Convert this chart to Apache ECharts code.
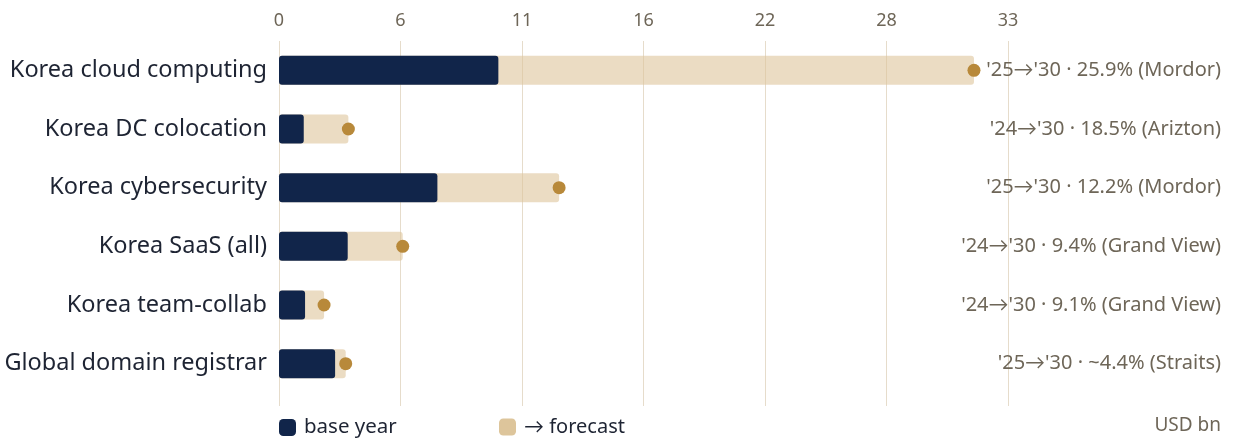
<!DOCTYPE html>
<html>
<head>
<meta charset="utf-8">
<style>
  html, body { margin: 0; padding: 0; background: #fff; }
  #chart { width: 1234px; height: 439px; }
</style>
<script src="https://cdn.jsdelivr.net/npm/echarts@6/dist/echarts.min.js"></script>
</head>
<body>
<div id="chart"></div>
<script>
// market sizes, USD bn
const categories = ['Korea cloud computing', 'Korea DC colocation', 'Korea cybersecurity',
    'Korea SaaS (all)', 'Korea team-collab', 'Global domain registrar'];
const baseYear = [9.93, 1.12, 7.17, 3.11, 1.18, 2.54];
const forecast = [31.46, 3.14, 12.68, 5.6, 2.04, 3.02];
const cagrNotes = ["'25→'30 · 25.9% (Mordor)", "'24→'30 · 18.5% (Arizton)", "'25→'30 · 12.2% (Mordor)",
    "'24→'30 · 9.4% (Grand View)", "'24→'30 · 9.1% (Grand View)", "'25→'30 · ~4.4% (Straits)"];
const tickLabels = ['0', '6', '11', '16', '22', '28', '33'];

const FONT = '"Noto Sans", Lato, sans-serif';
const NAVY = '#11254A';
const SAND = '#DDC59B';
const GOLD = '#B8893A';
const MUTED = '#6E6658';

const chart = echarts.init(document.getElementById('chart'));

chart.setOption({
    animation: false,
    textStyle: { fontFamily: FONT },
    grid: [
        { left: 279, right: 226, top: 41, height: 352 },
        { left: 279, right: 226, top: 41, height: 365 }
    ],
    xAxis: [{
        gridIndex: 0, type: 'value', min: 0, max: 33, interval: 5.5,
        axisLine: { show: false }, axisTick: { show: false },
        axisLabel: { show: false }, splitLine: { show: false }
    }, {
        gridIndex: 1, type: 'value', min: 0, max: 33, interval: 5.5, position: 'top',
        axisLine: { show: false }, axisTick: { show: false },
        axisLabel: {
            color: MUTED, fontSize: 18, margin: 11, fontFamily: FONT,
            formatter: (v) => tickLabels[Math.round(v / 5.5)]
        },
        splitLine: { show: true, lineStyle: { color: '#E6DCCB', width: 1 } }
    }],
    yAxis: [{
        gridIndex: 0, type: 'category', data: categories, inverse: true,
        axisLine: { show: false }, axisTick: { show: false },
        axisLabel: { color: '#1E2433', fontSize: 23.5, margin: 12, fontFamily: FONT, padding: [3, 0, 0, 0] }
    }, {
        gridIndex: 0, type: 'category', data: cagrNotes, inverse: true, position: 'right',
        axisLine: { show: false }, axisTick: { show: false },
        axisLabel: { color: MUTED, fontSize: 20, margin: 213, align: 'right', fontFamily: FONT, padding: [2, 0, 0, 0] }
    }, {
        gridIndex: 1, type: 'category', data: categories, show: false
    }],
    legend: [{
        data: [{ name: 'base year' }],
        left: 274, top: 412, itemWidth: 17, itemHeight: 17, itemGap: 8,
        textStyle: { color: '#1E2433', fontSize: 20.5, fontFamily: FONT, padding: [0, 0, 0, 3] },
        icon: 'roundRect', selectedMode: false
    }, {
        data: [{ name: '→ forecast', itemStyle: { color: SAND, opacity: 1 } }],
        left: 494, top: 412, itemWidth: 17, itemHeight: 17, itemGap: 8,
        textStyle: { color: '#1E2433', fontSize: 20, fontFamily: FONT, padding: [0, 0, 0, 3] },
        icon: 'roundRect', selectedMode: false
    }],
    title: {
        text: 'USD bn', right: 8, top: 411,
        textStyle: { color: MUTED, fontSize: 19, fontWeight: 'normal', fontFamily: FONT }
    },
    series: [{
        name: '→ forecast', type: 'bar', xAxisIndex: 0, yAxisIndex: 0,
        data: forecast, barWidth: 29, barGap: '-100%',
        itemStyle: { color: SAND, opacity: 0.6, borderRadius: 3 },
        z: 2
    }, {
        name: 'base year', type: 'bar', xAxisIndex: 0, yAxisIndex: 0,
        data: baseYear, barWidth: 29,
        itemStyle: { color: NAVY, borderRadius: 3 },
        z: 3
    }, {
        name: 'forecast point', type: 'scatter', xAxisIndex: 0, yAxisIndex: 0,
        data: forecast.map((v, i) => [v, i]),
        symbolSize: 13, itemStyle: { color: GOLD, opacity: 1 },
        z: 4
    }]
});
</script>
</body>
</html>
